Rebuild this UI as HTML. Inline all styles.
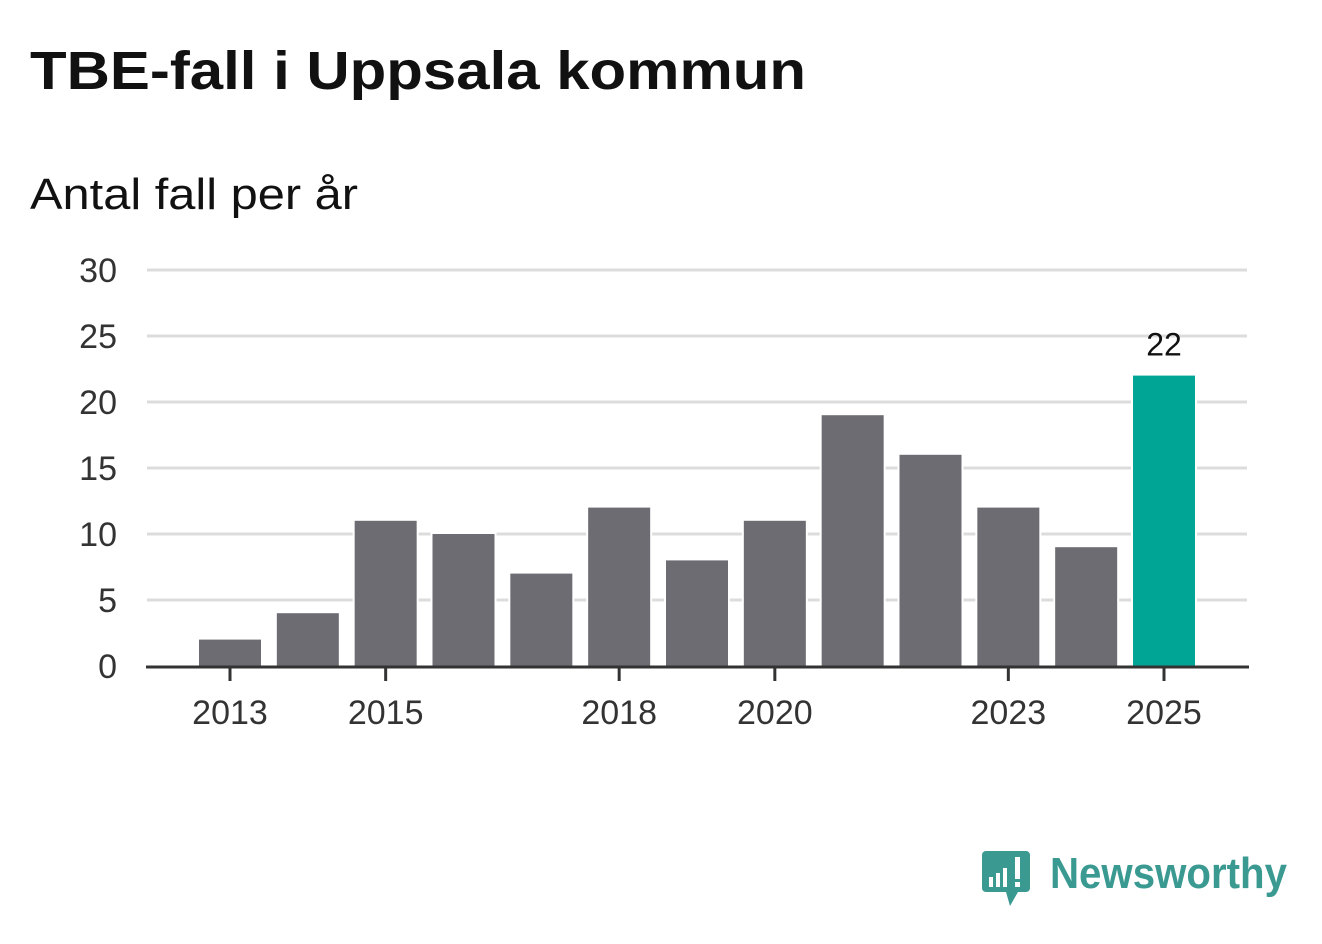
<!DOCTYPE html>
<html><head><meta charset="utf-8">
<style>
body{margin:0;background:#fff;width:1322px;height:939px;overflow:hidden;font-family:"Liberation Sans","DejaVu Sans",sans-serif;}
</style></head>
<body>
<svg width="1322" height="939" xmlns="http://www.w3.org/2000/svg">
<text x="30" y="89" font-size="54" font-weight="bold" fill="#111" font-family="Liberation Sans, sans-serif" textLength="776" lengthAdjust="spacingAndGlyphs">TBE-fall i Uppsala kommun</text>
<text x="30" y="209" font-size="44" fill="#111" font-family="Liberation Sans, sans-serif" textLength="328" lengthAdjust="spacingAndGlyphs">Antal fall per år</text>
<g id="grid"></g>
<g id="bars"></g>
<g id="axis"></g>
<g>
<path d="M986 851 h40 a4 4 0 0 1 4 4 v33 a4 4 0 0 1 -4 4 h-8 l-8 14 l-4 -14 h-20 a4 4 0 0 1 -4 -4 v-33 a4 4 0 0 1 4 -4z" fill="#3a9a92"/>
<rect x="989" y="877" width="4" height="10" fill="#fff"/>
<rect x="996" y="873" width="4" height="14" fill="#fff"/>
<rect x="1003" y="868" width="4" height="19" fill="#fff"/>
<rect x="1015" y="857" width="5" height="22" fill="#fff"/>
<rect x="1015" y="882" width="5" height="5" fill="#fff"/>
<text x="1050" y="888" font-size="44" font-weight="bold" fill="#3a9a92" font-family="Liberation Sans, sans-serif" textLength="237" lengthAdjust="spacingAndGlyphs">Newsworthy</text>
</g>
</svg>
<script>
const years=[2013,2014,2015,2016,2017,2018,2019,2020,2021,2022,2023,2024,2025];
const values=[2,4,11,10,7,12,8,11,19,16,12,9,22];
const yTicks=[0,5,10,15,20,25,30];
const xLabels=[2013,2015,2018,2020,2023,2025];
const NS="http://www.w3.org/2000/svg";
const y0=666,yTop=270,yMax=30;
const y=v=>y0-(v/yMax)*(y0-yTop);
const x0=230,step=(1164-230)/12;
const x=i=>x0+i*step;
const bw=62;
function mk(t,a,p){const e=document.createElementNS(NS,t);for(const k in a)e.setAttribute(k,a[k]);p.appendChild(e);return e;}
const grid=document.getElementById('grid'),bars=document.getElementById('bars'),axis=document.getElementById('axis');
yTicks.forEach(v=>{
  if(v>0){const l=mk('line',{x1:147,x2:1247,y1:y(v),y2:y(v),stroke:'#dcdcdc','stroke-width':3},grid);
  
  }
  const t=mk('text',{x:117,y:y(v)+12,'font-size':34,fill:'#333','text-anchor':'end'},grid);
  t.textContent=v;
  
  
});
values.forEach((v,i)=>{
  const last=i===values.length-1;
  const r=mk('rect',{x:x(i)-bw/2,y:y(v),width:bw,height:y0-y(v),fill:last?'#00a596':'#6d6c72',stroke:'#fff','stroke-width':4,'paint-order':'stroke'},bars);
  
  
  if(last){const t=mk('text',{x:x(i),y:y(v)-20,'font-size':32,fill:'#111','text-anchor':'middle'},bars);
  t.textContent=v;
  
  }
});
const al=mk('line',{x1:146,x2:1249,y1:y0+1,y2:y0+1,stroke:'#333','stroke-width':3},axis);


xLabels.forEach(yr=>{
  const i=years.indexOf(yr);
  mk('line',{x1:x(i),x2:x(i),y1:y0,y2:681,stroke:'#333','stroke-width':3},axis);
  const t=mk('text',{x:x(i),y:724,'font-size':34,fill:'#333','text-anchor':'middle'},axis);
  t.textContent=yr;
  
  
});
</script>
</body></html>
